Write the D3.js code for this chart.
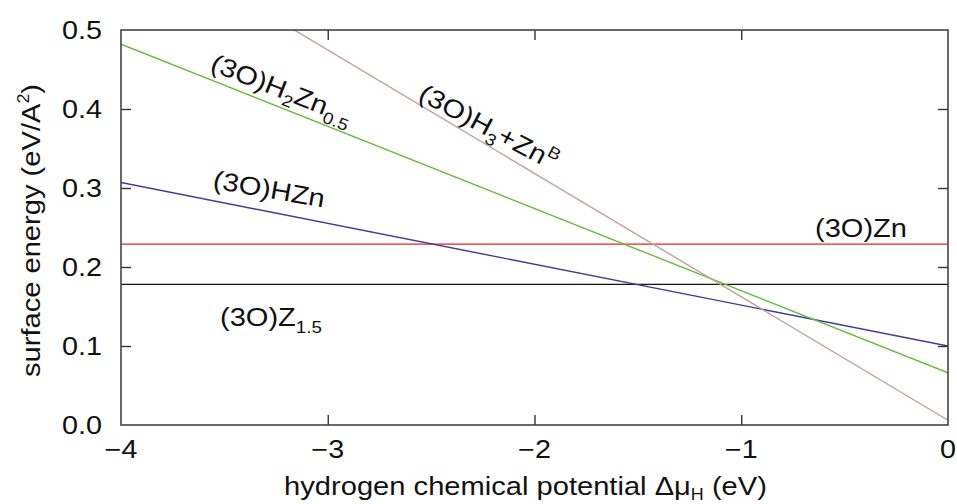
<!DOCTYPE html>
<html><head><meta charset="utf-8">
<script src="https://cdn.jsdelivr.net/npm/d3@7"></script>
<style>
html,body{margin:0;padding:0;background:#fff;}
text{font-family:"Liberation Sans",Arial,Helvetica,sans-serif;fill:#111;}
</style></head>
<body><svg id="c" width="957" height="504"></svg>
<script>
// ---- data ----
const xEnds = [-4, 0];                       // hydrogen chemical potential (eV)
const seriesNames = ["(3O)Z1.5", "(3O)Zn", "(3O)HZn", "(3O)H2Zn0.5", "(3O)H3+ZnB"];
const seriesColors = ["#111111", "#ee2222", "#3c3c9c", "#66bb3a", "#c4a0a0"];
const valZ15   = [0.178, 0.178];
const valZn    = [0.229, 0.229];
const valHZn   = [0.307, 0.100];
const valH2Zn  = [0.482, 0.066];
const valH3Zn  = [0.631, 0.006];
const xTicks = [-4, -3, -2, -1, 0];
const yTicks = [0.0, 0.1, 0.2, 0.3, 0.4, 0.5];
const allVals = [valZ15, valZn, valHZn, valH2Zn, valH3Zn];

const W = 957, H = 504;
const m = {l:121, r:9, t:30, b:79};
const svg = d3.select("#c");
const x = d3.scaleLinear().domain([-4, 0]).range([m.l, W - m.r]);
const y = d3.scaleLinear().domain([0, 0.5]).range([H - m.b, m.t]);
const pw = W - m.r - m.l, ph = H - m.b - m.t;

svg.append("defs").append("clipPath").attr("id","clip")
  .append("rect").attr("x", m.l).attr("y", m.t).attr("width", pw).attr("height", ph);

// lines
const line = d3.line().x(d => x(d[0])).y(d => y(d[1]));
const g = svg.append("g").attr("clip-path","url(#clip)");
allVals.forEach((vals, i) => {
  g.append("path").datum(xEnds.map((xv, j) => [xv, vals[j]]))
    .attr("d", line).attr("fill","none")
    .attr("stroke", seriesColors[i]).attr("stroke-width", 1.4);
});

// axes (ticks inward)
const tickStyle = sel => { sel.select(".domain").remove();
  sel.selectAll("line").attr("stroke","#333").attr("stroke-width",1.4); };
const innerX = xTicks.filter(t => t > -4 && t < 0);
const innerY = yTicks.filter(t => t > 0 && t < 0.5);
svg.append("g").attr("transform",`translate(0,${H-m.b})`)
  .call(d3.axisBottom(x).tickValues(innerX).tickSize(-10).tickFormat(""))
  .call(tickStyle);
svg.append("g").attr("transform",`translate(0,${m.t})`)
  .call(d3.axisTop(x).tickValues(innerX).tickSize(-10).tickFormat(""))
  .call(tickStyle);
svg.append("g").attr("transform",`translate(${m.l},0)`)
  .call(d3.axisLeft(y).tickValues(innerY).tickSize(-10).tickFormat(""))
  .call(tickStyle);
svg.append("g").attr("transform",`translate(${W-m.r},0)`)
  .call(d3.axisRight(y).tickValues(innerY).tickSize(-10).tickFormat(""))
  .call(tickStyle);

// frame
svg.append("rect").attr("x", m.l).attr("y", m.t).attr("width", pw).attr("height", ph)
  .attr("fill","none").attr("stroke","#444").attr("stroke-width",1.6);

// tick labels
const fmtX = d => d === 0 ? "0" : "\u2212" + Math.abs(d);
svg.append("g").selectAll("text").data(xTicks).join("text")
  .attr("transform", d => `translate(${x(d)},${H-m.b+33}) scale(1.15,1)`)
  .attr("text-anchor","middle").attr("font-size",25).text(fmtX);
svg.append("g").selectAll("text").data(yTicks).join("text")
  .attr("transform", d => `translate(${m.l-19},${y(d)+9}) scale(1.15,1)`)
  .attr("text-anchor","end").attr("font-size",25).text(d => d.toFixed(1));

// axis titles
const xt = svg.append("text").attr("transform",`translate(${m.l+pw/2-9},${H-9}) scale(1.12,1)`)
  .attr("text-anchor","middle").attr("font-size",26);
xt.append("tspan").text("hydrogen chemical potential \u0394\u03bc");
xt.append("tspan").attr("font-size",16).attr("dy",5).text("H");
xt.append("tspan").attr("dy",-5).text(" (eV)");

const yt = svg.append("text").attr("transform",`translate(40,${m.t+ph/2+3}) rotate(-90) scale(1.12,1)`)
  .attr("text-anchor","middle").attr("font-size",26);
yt.append("tspan").text("surface energy (eV/A");
yt.append("tspan").attr("font-size",16).attr("dy",-11).text("2");
yt.append("tspan").attr("dy",11).text(")");

// series labels
function label(parts, tx, ty, ang) {
  const t = svg.append("text").attr("transform",`translate(${tx},${ty}) rotate(${ang}) scale(1.14,1)`)
    .attr("font-size",25.5);
  let cur = 0;
  parts.forEach(p => {
    const off = p[1];
    t.append("tspan").attr("font-size", off === 0 ? 25.5 : 16.5).attr("dy", off - cur).text(p[0]);
    cur = off;
  });
}
label([["(3O)H",0],["2",6],["Zn",0],["0.5",7]], 209, 70, 21.5);
label([["(3O)H",0],["3",7],["+Zn",0],["B",-11]], 417, 99, 28);
label([["(3O)HZn",0]], 212, 188, 10);
label([["(3O)Zn",0]], 815, 237, 0);
label([["(3O)Z",0],["1.5",7]], 220, 326, 0);
</script></body></html>
